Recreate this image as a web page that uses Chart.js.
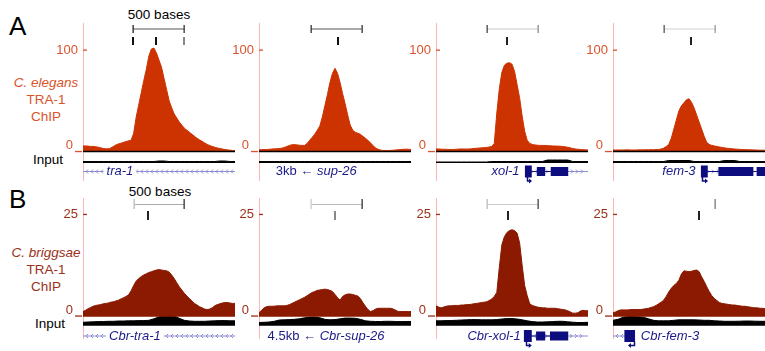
<!DOCTYPE html>
<html>
<head>
<meta charset="utf-8">
<script src="https://cdn.jsdelivr.net/npm/chart.js@4.4.1/dist/chart.umd.min.js"></script>
<style>
   body { margin: 0; width: 765px; height: 351px; position: relative; background: #fff; overflow: hidden;
          font-family: "Liberation Sans", Arial, sans-serif; }
   canvas { position: absolute; }
   .lbl { position: absolute; white-space: nowrap; }
</style>
</head>
<body>
<div class="lbl" style="left:9px;top:13px;font-size:26px;line-height:26px">A</div>
<div class="lbl" style="left:9px;top:186px;font-size:26px;line-height:26px">B</div>
<div class="lbl" style="left:109px;top:8px;width:100px;text-align:center;font-size:13.5px;line-height:14px">500 bases</div>
<div class="lbl" style="left:110px;top:185px;width:100px;text-align:center;font-size:13.5px;line-height:14px">500 bases</div>
<div class="lbl" style="left:6px;top:74px;width:80px;text-align:center;font-size:13.5px;line-height:17px;color:#d9532b">
   <i>C. elegans</i><br>TRA-1<br>ChIP</div>
<div class="lbl" style="left:6px;top:244px;width:80px;text-align:center;font-size:13.5px;line-height:17px;color:#9c3018">
   <i>C. briggsae</i><br>TRA-1<br>ChIP</div>
<div class="lbl" style="left:0;top:153px;width:63px;text-align:right;font-size:13.5px;line-height:14px">Input</div>
<div class="lbl" style="left:0;top:317px;width:65px;text-align:right;font-size:13.5px;line-height:14px">Input</div>
<script>
// every panel is a 60-bin genomic window; ChIP read in bins of 1, input in bins of 2
const ticksA = [0, 100];
const ticksB = [0, 25];

const chipA1 = [5.5, 5.5, 5.3, 5.0, 5.0, 4.8, 4.2, 3.6, 3.0, 2.7,
   2.6, 3.5, 5.0, 6.5, 7.5, 8.2, 9.0, 9.8, 10.5, 11.2,
   18, 34, 46, 58, 70, 81, 94, 101, 102, 97,
   90, 83, 72, 61, 50, 43, 37, 33, 29, 26,
   23, 21, 19, 17, 15, 13, 11.5, 10, 8.5, 7,
   6, 5, 4.2, 3.5, 3, 2.5, 2, 1.6, 1.3, 1, 0.8];
const chipA2 = [1.7, 1.8, 2.0, 2.0, 2.2, 2.4, 2.6, 2.8, 3.0, 3.3,
   4.0, 5.0, 6.0, 6.6, 6.8, 6.5, 6.2, 6.0, 6.0, 8.0,
   11, 14, 17, 21, 25, 34, 45, 56, 68, 77,
   82, 77, 68, 57, 47, 36, 26, 21, 19, 18,
   17, 15, 13, 11, 8.5, 6, 3.5, 2.2, 1.4, 1.0,
   1.0, 1.0, 1.1, 1.3, 1.5, 1.8, 2.0, 2.2, 2.3, 2.2, 2.0];
const chipA3 = [2.5, 2.5, 2.3, 2.2, 2.2, 2.0, 2.0, 2.0, 2.2, 2.4,
   2.5, 2.5, 2.4, 2.5, 2.7, 3.0, 3.2, 3.4, 3.6, 3.8,
   4.0, 4.5, 5.0, 8.0, 38, 62, 78, 85, 87, 87.5,
   86, 79, 66, 53, 35, 20, 11, 8, 7, 6.5,
   6.2, 6.0, 6.0, 6.0, 5.8, 5.6, 5.5, 5.4, 5.3, 5.2,
   5.0, 4.6, 4.2, 3.6, 3.0, 2.5, 2.2, 2.0, 1.8, 1.6, 1.5];
const chipA4 = [1.5, 1.5, 1.5, 1.5, 1.5, 1.6, 1.6, 1.5, 1.5, 1.5,
   1.6, 1.6, 1.6, 1.7, 1.7, 1.8, 1.8, 1.9, 2.0, 2.5,
   3.3, 5, 7, 13, 22, 31, 40, 45, 48, 51,
   52, 48.5, 43, 36, 29, 22, 15, 9, 7, 6,
   5.5, 5, 4.5, 4, 3.6, 3.2, 3.0, 2.7, 2.5, 2.3,
   2.1, 2.0, 1.9, 1.8, 1.7, 1.6, 1.5, 1.4, 1.3, 1.3, 1.2];

const chipB1 = [1.1, 1.4, 1.8, 2.1, 2.4, 2.6, 2.7, 2.8, 3.0, 3.1,
   3.2, 3.4, 3.5, 3.7, 3.9, 4.2, 4.5, 4.8, 5.2, 6.2,
   7.5, 8.6, 9.2, 9.7, 10.1, 10.4, 10.7, 10.9, 11.1, 11.3,
   11.4, 11.3, 11.2, 11.1, 10.8, 10.1, 9.2, 8.2, 7.2, 6.4,
   5.6, 4.9, 4.3, 3.7, 3.1, 2.7, 2.3, 2.0, 1.7, 1.6,
   1.7, 2.0, 2.5, 2.8, 3.0, 3.2, 3.3, 3.3, 3.2, 3.1, 3.1];
const chipB2 = [0.8, 1.4, 2.0, 2.3, 2.4, 2.4, 2.4, 2.5, 2.5, 2.5,
   2.5, 2.6, 2.8, 3.1, 3.4, 3.7, 4.0, 4.3, 4.6, 5.0,
   5.4, 5.8, 6.0, 6.3, 6.4, 6.5, 6.6, 6.5, 6.3, 6.0,
   5.3, 4.5, 3.9, 4.8, 5.2, 5.4, 5.4, 5.3, 5.1, 4.9,
   4.3, 3.3, 2.4, 1.6, 1.1, 1.3, 1.7, 1.9, 1.9, 1.9,
   1.9, 1.9, 1.9, 1.7, 1.4, 1.1, 1.1, 1.1, 1.1, 1.1, 1.1];
const chipB3 = [2.5, 2.2, 2.0, 2.2, 2.4, 2.5, 2.5, 2.6, 2.6, 2.6,
   2.7, 2.7, 2.8, 2.8, 2.9, 3.0, 3.1, 3.2, 3.3, 3.4,
   3.5, 3.8, 4.2, 4.8, 5.8, 12, 17.5, 19.5, 20.5, 21,
   21.2, 21, 20.4, 18, 12.5, 7.5, 5, 3, 2.6, 2.4,
   2.2, 2.1, 2.0, 2.0, 1.9, 1.9, 1.9, 1.9, 1.8, 1.7,
   1.6, 1.5, 1.3, 1.0, 0.7, 0.7, 0.8, 1.2, 1.4, 1.3, 1.3];
const chipB4 = [0.8, 1.0, 1.3, 1.5, 1.5, 1.5, 1.5, 1.6, 1.6, 1.6,
   1.6, 1.6, 1.7, 1.8, 1.9, 2.1, 2.3, 2.6, 3.0, 3.4,
   3.9, 4.8, 5.9, 6.8, 7.5, 8.0, 8.8, 10.3, 11.1, 11.0,
   10.9, 11.0, 11.2, 11.3, 10.9, 9.6, 8.5, 7.2, 6.0, 5.0,
   4.3, 3.8, 3.3, 3.1, 3.0, 2.9, 2.8, 2.7, 2.7, 2.6,
   2.5, 2.4, 2.4, 2.3, 2.2, 2.1, 2.0, 2.0, 1.9, 1.9, 1.8];

const inputA1 = [1.5, 1.5, 1.5, 1.5, 1.5, 1.5, 1.5, 1.5, 1.5, 1.5, 1.5, 1.5, 1.5, 1.5, 1.5, 2,
   2, 1.5, 1.5, 1.5, 1.5, 1.5, 1.5, 1.5, 1.5, 1.5, 1.5, 2, 2, 1.5, 1.5];
const inputA2 = [1.5, 1.5, 1.5, 1.5, 1.5, 1.5, 1.5, 1.5, 1.5, 1.5, 1.5, 1.5, 1.5, 1.5, 1.5, 1.5,
   1.5, 1.5, 1.5, 1.5, 1.5, 1.5, 1.5, 1.5, 1.5, 1.5, 1.5, 1.5, 1.5, 1.5, 1.5];
const inputA3 = [1, 1, 1, 1, 1, 1, 1, 1, 1, 1, 1, 1.5, 1.5, 1.5, 1.5, 1.5,
   1.5, 1.5, 1.5, 1.5, 1.5, 1.5, 3, 3, 3, 3, 3, 1.5, 1.5, 1.5, 1.5];
const inputA4 = [1.5, 1.5, 1.5, 1.5, 1.5, 1.5, 1.5, 1.5, 1.5, 1.5, 1.5, 2.5, 2.5, 2.5, 2.5, 2.5,
   1.5, 1.5, 1.5, 1.5, 1.5, 1.5, 2.5, 2.5, 2.5, 1.5, 1.5, 1.5, 1.5, 1.5, 1.5];

const inputB1 = [3.5, 3.8, 4, 4.2, 4.3, 4.5, 4.5, 4.8, 4.8, 5, 5, 5.2, 5.2, 5.5, 7, 9,
   10, 10, 9.5, 7.5, 5.5, 4.8, 4.5, 4.5, 4.5, 4.8, 5, 5.2, 5.2, 5, 5];
const inputB2 = [3.3, 3.5, 3.8, 4.5, 5.8, 6, 6.2, 6.5, 7, 8, 8.7, 8.7, 8, 6.5, 6, 6.2,
   7, 7.7, 7.7, 7.5, 6.5, 5, 4.5, 4.3, 4.3, 4.5, 4.5, 4.3, 4.2, 4.3, 4.3];
const inputB3 = [5, 5, 5.2, 5.3, 5.5, 5.8, 6, 6.2, 6.2, 6, 6, 6, 6.2, 6.8, 7.2, 7.2,
   6.8, 6, 5, 4.2, 3.8, 3.8, 4, 4.2, 4.5, 4.5, 4, 3.6, 3.3, 3.3, 3.5];
const inputB4 = [5.5, 6.5, 8.5, 9.3, 9.3, 9, 8.5, 7, 5.5, 5, 5, 5, 5.5, 6, 6, 6,
   6, 5.8, 5.5, 5.5, 5, 4.8, 4.5, 4.5, 4.5, 4.6, 4.8, 4.8, 4.6, 4.5, 4.5];

// gene models, in bins
const genesA = [
   { line: [0, 60], dir: -1, exons: [], tss: null, label: [['tra-1', true]], at: 14.6, align: 'center' },
   { line: null, dir: 0, exons: [], tss: null, label: [['3kb \u2190 ', false], ['sup-26', true]], at: 6.6, align: 'left' },
   { line: [35.1, 60], dir: 1, exons: [[35.1, 37.8], [39.8, 43.1], [45.3, 52.2]], tss: [35.9, 37.9],
     label: [['xol-1', true]], at: 33.0, align: 'right' },
   { line: [34.7, 60], dir: 1, exons: [[34.7, 37.4], [41.6, 55.4], [56.7, 61]], tss: [35.1, 37.5],
     label: [['fem-3', true]], at: 32.6, align: 'right' }
];
const genesB = [
   { line: [0, 60], dir: -1, exons: [], tss: null, label: [['Cbr-tra-1', true]], at: 20.5, align: 'center' },
   { line: null, dir: 0, exons: [], tss: null, label: [['4.5kb \u2190 ', false], ['Cbr-sup-26', true]], at: 3.4, align: 'left' },
   { line: [34.7, 60], dir: 1, exons: [[34.7, 37.8], [39.5, 43.1], [45, 52.2]], tss: [35.5, 37.8],
     label: [['Cbr-xol-1', true]], at: 33.4, align: 'right' },
   { line: [0, 8.7], dir: -1, exons: [[4.5, 8.7]], tss: [8.1, 5.9], label: [['Cbr-fem-3', true]], at: 11.0, align: 'left' }
];

// 500-base rulers, in bins
const rulersA = [
   { bar: [19.9, 40.0], ends: [19.9, 40.0], mids: [19.6, 28.8, 40.0] },
   { bar: [20.5, 40.5], ends: [20.5, 40.5], mids: [31.0] },
   { bar: [20.1, 40.2], ends: [20.1, 40.2], mids: [28.2] },
   { bar: [20.3, 40.3], ends: [20.3, 40.3], mids: [30.6] }
];
const rulersB = [
   { bar: [20.3, 40.0], ends: [20.3, 40.0], mids: [25.5] },
   { bar: [20.5, 40.5], ends: [20.5, 40.5], mids: [30.0] },
   { bar: [20.1, 40.2], ends: [20.1, 40.2], mids: [28.6] },
   { bar: null, ends: [40.3], mids: [34.1] }
];
const rulerColorsA = [
   { bar: '#555', ends: ['#222', '#333'], mids: ['#111', '#111', '#888'] },
   { bar: '#555', ends: ['#333', '#333'], mids: ['#111'] },
   { bar: '#c8c8c8', ends: ['#444', '#888'], mids: ['#222'] },
   { bar: '#d0d0d0', ends: ['#555', '#999'], mids: ['#222'] }
];
const rulerColorsB = [
   { bar: '#aaa', ends: ['#bbb', '#333'], mids: ['#222'] },
   { bar: '#bbb', ends: ['#ccc', '#333'], mids: ['#888'] },
   { bar: '#ccc', ends: ['#bbb', '#444'], mids: ['#222'] },
   { bar: null, ends: ['#777'], mids: ['#222'] }
];

const axisX = [83, 259, 436, 613];
const plotW = 152;
const FONT = '"Liberation Sans", Arial, sans-serif';

const rows = [
   { top: 0, height: 184, padTop: 23, padBottom: 4, yMin: -28.08, yMax: 126.6, inMin: -17, inMax: 140,
     ticks: ticksA, fill: '#cc3300', text: '#d9532b', base: '#000',
     barY: 28.5, endTick: [25, 33], midTick: [37, 45], geneY: 171,
     chip: [chipA1, chipA2, chipA3, chipA4], input: [inputA1, inputA2, inputA3, inputA4],
     genes: genesA, rulers: rulersA, rulerColors: rulerColorsA },
   { top: 184, height: 167, padTop: 14.3, padBottom: 12.7, yMin: -5.48, yMax: 28.93, inMin: -12.5, inMax: 127.5,
     ticks: ticksB, fill: '#8b1a00', text: '#9c3018', base: '#8b1a00',
     barY: 20, endTick: [15, 25], midTick: [27, 36], geneY: 151.5,
     chip: [chipB1, chipB2, chipB3, chipB4], input: [inputB1, inputB2, inputB3, inputB4],
     genes: genesB, rulers: rulersB, rulerColors: rulerColorsB }
];

const toXY = (arr, step) => arr.map((v, i) => ({ x: i * step, y: v }));

function trackDecor(row, k) {
   return {
      id: 'trackDecor',
      afterDatasetsDraw(chart) {
         const { ctx, chartArea: a, scales } = chart;
         const y = scales.y;
         const px = u => scales.x.getPixelForValue(u);
         ctx.save();

         // zero line + y labels
         const y0 = y.getPixelForValue(0);
         ctx.fillStyle = row.base;
         ctx.fillRect(a.left, y0 - 0.75, a.right - a.left, 1.5);
         ctx.font = '13px ' + FONT;
         ctx.fillStyle = row.text;
         ctx.textAlign = 'right';
         ctx.textBaseline = 'middle';
         const yt = y.getPixelForValue(row.ticks[1]);
         ctx.fillText(String(row.ticks[1]), a.left - 5, yt);
         ctx.fillRect(a.left, yt - 0.5, 4, 1.3);
         ctx.fillText(String(row.ticks[0]), a.left - 10, y0 - 6);
         ctx.fillRect(a.left - 8, y0 - 0.6, 7, 1.3);

         // ruler
         const r = row.rulers[k], rc = row.rulerColors[k];
         if (r.bar) {
            ctx.fillStyle = rc.bar;
            ctx.fillRect(px(r.bar[0]), row.barY, px(r.bar[1]) - px(r.bar[0]), 1);
         }
         r.ends.forEach((u, i) => {
            ctx.fillStyle = rc.ends[i];
            ctx.fillRect(Math.round(px(u)) - 0.5, row.endTick[0], 1.3, row.endTick[1] - row.endTick[0]);
         });
         r.mids.forEach((u, i) => {
            ctx.fillStyle = rc.mids[i];
            ctx.fillRect(Math.round(px(u)) - 1, row.midTick[0], 2, row.midTick[1] - row.midTick[0]);
         });

         // gene model
         const g = row.genes[k], gy = row.geneY;
         ctx.beginPath();
         ctx.rect(a.left, 0, a.right - a.left, chart.height);
         ctx.clip();
         if (g.line) {
            const x0 = px(g.line[0]), x1 = Math.min(px(g.line[1]), a.right);
            ctx.strokeStyle = '#8c8cd0';
            ctx.lineWidth = 1;
            ctx.beginPath();
            ctx.moveTo(x0, gy + 0.5);
            ctx.lineTo(x1, gy + 0.5);
            for (let xx = x0 + 3; xx < x1 - 2; xx += 5) {
               ctx.moveTo(xx - 2 * g.dir, gy - 1.5);
               ctx.lineTo(xx, gy + 0.5);
               ctx.lineTo(xx - 2 * g.dir, gy + 2.5);
            }
            ctx.stroke();
         }
         ctx.fillStyle = '#0d0d80';
         ctx.strokeStyle = '#0d0d80';
         for (let i = 1; i < g.exons.length; i++) {
            ctx.fillRect(px(g.exons[i - 1][1]), gy, px(g.exons[i][0]) - px(g.exons[i - 1][1]), 1);
         }
         g.exons.forEach((e, i) => {
            const h = i === 0 ? 12 : 9;
            ctx.fillRect(px(e[0]), gy + 0.5 - h / 2, px(e[1]) - px(e[0]), h);
         });
         if (g.tss) {
            const xa = Math.round(px(g.tss[0])) + 0.5, xb = px(g.tss[1]);
            const dir = Math.sign(xb - xa);
            ctx.lineWidth = 1.5;
            ctx.beginPath();
            ctx.moveTo(xa, gy + 6);
            ctx.lineTo(xa, gy + 10);
            ctx.lineTo(xb - dir * 2, gy + 10);
            ctx.stroke();
            ctx.beginPath();
            ctx.moveTo(xb, gy + 10);
            ctx.lineTo(xb - dir * 3, gy + 7.5);
            ctx.lineTo(xb - dir * 3, gy + 12.5);
            ctx.closePath();
            ctx.fill();
         }
         ctx.restore();

         // gene label
         ctx.save();
         const widths = g.label.map(s => {
            ctx.font = (s[1] ? 'italic ' : '') + '13px ' + FONT;
            return ctx.measureText(s[0]).width;
         });
         const total = widths.reduce((s, w) => s + w, 0);
         let lx = px(g.at);
         if (g.align === 'center') lx -= total / 2;
         if (g.align === 'right') lx -= total;
         if (g.line && g.align === 'center') {
            ctx.fillStyle = '#fff';
            ctx.fillRect(lx - 3, gy - 6, total + 6, 13);
         }
         ctx.fillStyle = '#1a1a88';
         ctx.textBaseline = 'middle';
         ctx.textAlign = 'left';
         g.label.forEach((s, i) => {
            ctx.font = (s[1] ? 'italic ' : '') + '13px ' + FONT;
            ctx.fillText(s[0], lx, gy + 0.5);
            lx += widths[i];
         });
         ctx.restore();
      }
   };
}

rows.forEach(row => {
   axisX.forEach((ax, k) => {
      const cv = document.createElement('canvas');
      const w = 30 + plotW;
      cv.width = w;
      cv.height = row.height;
      cv.style.left = (ax - 30) + 'px';
      cv.style.top = row.top + 'px';
      cv.style.width = w + 'px';
      cv.style.height = row.height + 'px';
      document.body.appendChild(cv);

      new Chart(cv, {
         type: 'line',
         data: {
            datasets: [{
               data: toXY(row.chip[k], 1),
               yAxisID: 'y',
               fill: 'origin',
               backgroundColor: row.fill,
               borderColor: row.fill,
               borderWidth: 1,
               pointRadius: 0,
               tension: 0
            }, {
               data: toXY(row.input[k], 2),
               yAxisID: 'yIn',
               fill: 'origin',
               backgroundColor: '#000',
               borderColor: '#000',
               borderWidth: 1,
               pointRadius: 0,
               tension: 0
            }]
         },
         options: {
            responsive: false,
            animation: false,
            devicePixelRatio: 1,
            layout: { padding: { top: row.padTop, bottom: row.padBottom, left: 0, right: 0 } },
            plugins: { legend: { display: false }, tooltip: { enabled: false } },
            scales: {
               x: { type: 'linear', min: 0, max: 60, display: false },
               y: {
                  position: 'left', min: row.yMin, max: row.yMax,
                  grid: { display: false, drawTicks: false },
                  ticks: { display: false },
                  border: { display: true, color: '#ffb3b3', width: 1 },
                  afterFit: s => { s.width = 30; }
               },
               yIn: { position: 'left', min: row.inMin, max: row.inMax, display: false }
            }
         },
         plugins: [trackDecor(row, k)]
      });
   });
});
</script>
</body>
</html>
